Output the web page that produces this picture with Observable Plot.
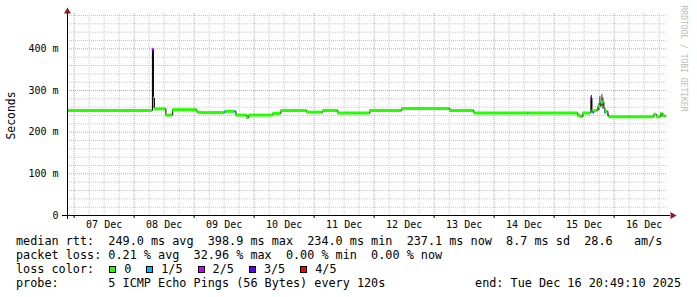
<!DOCTYPE html>
<html><head><meta charset="utf-8">
<script src="https://cdn.jsdelivr.net/npm/d3@7"></script>
<script src="https://cdn.jsdelivr.net/npm/@observablehq/plot@0.6"></script>
<style>
body{margin:0;background:#fff;}
#chart svg{display:block;}
#legend{font-family:"DejaVu Sans Mono",monospace;font-size:11.8px;line-height:14px;color:#000;padding:0 16px;white-space:pre;}
.row{height:14px;position:relative;}
.sw{display:inline-block;width:5px;height:5px;border:1px solid #000;margin-left:15px;margin-right:8px;vertical-align:0px;}
.right{position:absolute;right:0;top:0;}
</style>
</head><body>
<div id="chart"></div>
<div id="legend"></div>
<script>
// ---- data ----
const times = ["2025-12-06T21:20","2025-12-08T07:18","2025-12-08T07:42","2025-12-08T08:06","2025-12-08T12:42","2025-12-08T15:24","2025-12-09T01:06","2025-12-09T01:54","2025-12-09T12:18","2025-12-09T12:42","2025-12-09T16:18","2025-12-09T16:42","2025-12-09T21:06","2025-12-09T21:54","2025-12-10T07:30","2025-12-10T10:42","2025-12-10T21:06","2025-12-11T03:30","2025-12-11T09:30","2025-12-11T22:18","2025-12-12T11:06","2025-12-13T06:18","2025-12-13T15:54","2025-12-14T13:30","2025-12-14T13:54","2025-12-15T09:30","2025-12-15T10:42","2025-12-15T11:30","2025-12-15T14:42","2025-12-15T15:06","2025-12-15T15:30","2025-12-15T15:54","2025-12-15T17:30","2025-12-15T18:42","2025-12-15T19:54","2025-12-15T20:18","2025-12-15T20:42","2025-12-15T21:30","2025-12-15T21:54","2025-12-16T15:54","2025-12-16T16:54","2025-12-16T18:42","2025-12-16T19:30","2025-12-16T20:49"];
const medians = [252,399,282,256,241,254,249,247,250,250,250,241,235,241,245,252,248,252,246,252,257,252,246,246,246,240,237,246,282,250,247,252,262,272,258,247,250,241,237,243,237,245,239,239];
const losses  = [0,2,1,0,0,0,0,0,1,0,1,0,0,0,0,0,0,0,0,0,0,0,0,1,0,0,0,0,2,0,1,0,0,0,0,1,0,2,0,0,0,0,0,0];
const smokeTimes = ["2025-12-08T07:30","2025-12-15T14:54","2025-12-15T17:54","2025-12-15T18:18","2025-12-15T19:06","2025-12-15T19:30","2025-12-16T18:54"];
const smokeLow  = [256,247,252,262,262,255,239];
const smokeHigh = [399,288,268,285,290,282,247];
const dayLabels = ["07 Dec","08 Dec","09 Dec","10 Dec","11 Dec","12 Dec","13 Dec","14 Dec","15 Dec","16 Dec"];
const yTicks = [0,100,200,300,400];
const lossLabels = ["0","1/5","2/5","3/5","4/5"];
const lossColors = ["#26ff00","#00b8ff","#cc00ff","#5500ff","#ff0000"];
const rttStats = ["249.0 ms avg","398.9 ms max","234.0 ms min","237.1 ms now","8.7 ms sd","28.6   am/s"];
const lossStats = ["0.21 % avg","32.96 % max","0.00 % min","0.00 % now"];
const probeText = "5 ICMP Echo Pings (56 Bytes) every 120s";
const endText = "end: Tue Dec 16 20:49:10 2025";
const watermark = "RRDTOOL / TOBI OETIKER";
const rangeStart = "2025-12-06T21:20", rangeEnd = "2025-12-16T21:20";
const yMax = 480;

// ---- build ----
const parse = s => new Date(s + ":00Z");
const series = times.map((t,i)=>({t: parse(t), v: medians[i], loss: losses[i]}));
const segs = series.slice(0,-1).map((d,i)=>({...d, t2: series[i+1].t}));
const smoke = smokeTimes.map((t,i)=>({t: parse(t), lo: smokeLow[i], hi: smokeHigh[i]}));
const xDomain = [parse(rangeStart), parse(rangeEnd)];
const midnights = d3.utcDay.range(xDomain[0], xDomain[1]);
const noons = midnights.map(d => d3.utcHour.offset(d, 12));
const minorX = d3.utcHour.every(6).range(xDomain[0], xDomain[1]).filter(d => d.getUTCHours() !== 0);
const minorY = d3.range(20, yMax + 1, 20).filter(v => v % 100 !== 0);
const majorY = yTicks.filter(v => v > 0);
const dash = {strokeOpacity: 1, strokeDasharray: "1,1"};

const plot = Plot.plot({
  width: 697, height: 234,
  marginLeft: 67, marginRight: 30, marginTop: 15, marginBottom: 19,
  style: {fontFamily: '"DejaVu Sans Mono", monospace', fontSize: "10px", color: "#000", background: "#fff"},
  x: {type: "utc", domain: xDomain},
  y: {domain: [0, yMax]},
  marks: [
    Plot.gridY(minorY, {stroke: "#c8c8c8", ...dash}),
    Plot.gridX(minorX, {stroke: "#c8c8c8", insetTop: -2, ...dash}),
    Plot.gridY(majorY, {stroke: "#e49a9a", ...dash}),
    Plot.gridX(midnights, {stroke: "#e49a9a", insetTop: -2, ...dash}),
    Plot.ruleX(smoke, {x: "t", y1: "lo", y2: "hi", stroke: "#222", strokeWidth: 1}),
    Plot.line(series, {x: "t", y: "v", curve: "step-after", stroke: "#000", strokeWidth: 1}),
    Plot.ruleY(segs, {y: "v", x1: "t", x2: "t2", stroke: d => lossColors[d.loss], strokeWidth: 3}),
    Plot.ruleY([0], {stroke: "#000", insetLeft: -5, insetRight: -3}),
    Plot.ruleX([xDomain[0]], {stroke: "#000", insetTop: -3, insetBottom: -4}),
    Plot.dot([0], {x: () => xDomain[0], y: () => yMax, symbol: "triangle", r: 2.6, fill: "#8b1a1a", stroke: "none", dy: -4}),
    Plot.dot([0], {x: () => xDomain[1], y: () => 0, symbol: "triangle", r: 2.6, fill: "#8b1a1a", stroke: "none", rotate: 90, dx: 5}),
    Plot.axisY({ticks: yTicks, tickFormat: d => d ? d + " m" : "0", tickSize: 0, tickPadding: 9, label: null}),
    Plot.axisX({ticks: midnights, tickSize: 3, tickFormat: () => "", label: null}),
    Plot.axisX({ticks: noons, tickSize: 0, tickPadding: 5, tickFormat: (d, i) => dayLabels[i], label: null}),
    Plot.text(["Seconds"], {frameAnchor: "left", textAnchor: "middle", rotate: -90, dx: -56, fontSize: 11.4}),
    Plot.text([watermark], {frameAnchor: "top-right", rotate: 90, dx: 19, dy: -10, textAnchor: "start", fill: "#bbb", fontSize: 8})
  ]
});
document.getElementById("chart").append(plot);

// ---- legend ----
const leg = document.getElementById("legend");
function row(){ const r = document.createElement("div"); r.className = "row"; leg.append(r); return r; }
row().textContent = "median rtt:  " + rttStats.join("  ");
row().textContent = "packet loss: " + lossStats.join("  ");
const r3 = row();
r3.append(document.createTextNode("loss color:"));
lossLabels.forEach((l, i) => {
  const s = document.createElement("span"); s.className = "sw"; s.style.background = lossColors[i];
  r3.append(s, document.createTextNode(l));
});
const r4 = row();
r4.textContent = "probe:       " + probeText;
const e = document.createElement("span"); e.className = "right"; e.textContent = endText; r4.append(e);
</script>
</body></html>
